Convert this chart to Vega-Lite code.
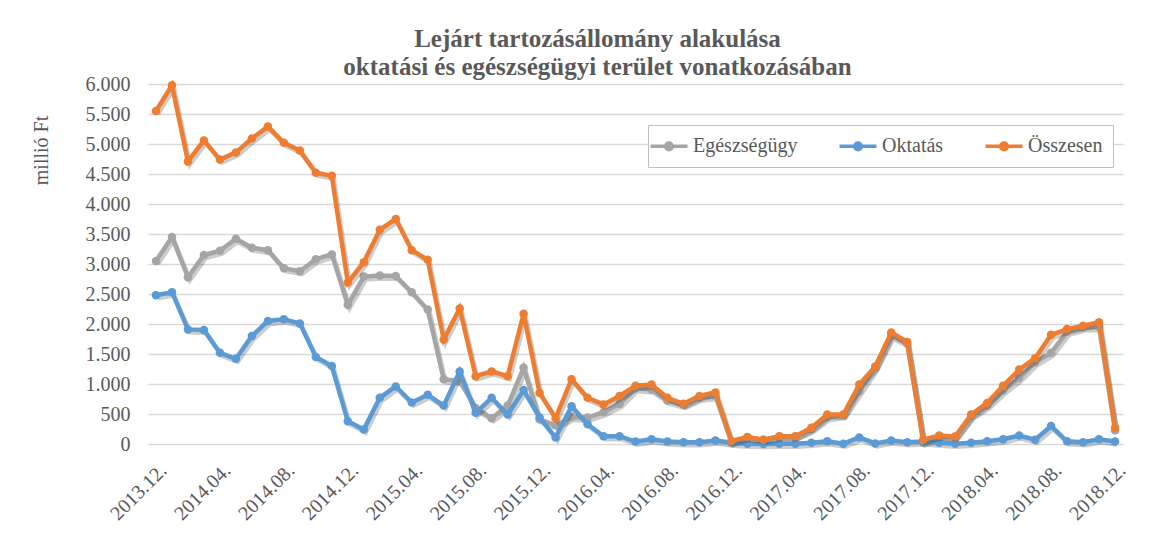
{
"$schema": "https://vega.github.io/schema/vega-lite/v6.json",
"width": 975, "height": 360,
"autosize": {"type": "none"},
"padding": {"left": 148, "top": 84, "right": 51, "bottom": 90},
"background": "white",
"config": {"view": {"stroke": null}, "font": "Liberation Serif"},
"title": {"text": ["Lejárt tartozásállomány alakulása", "oktatási és egészségügyi terület vonatkozásában"], "font": "Liberation Serif", "fontSize": 25, "fontWeight": "bold", "color": "#595959", "anchor": "middle", "dx": -38, "offset": -6, "lineHeight": 28},
"data": {"values": [
{"m":"2013.12.","s":"Egészségügy","v":3050},{"m":"2014.01.","s":"Egészségügy","v":3450},{"m":"2014.02.","s":"Egészségügy","v":2780},{"m":"2014.03.","s":"Egészségügy","v":3150},{"m":"2014.04.","s":"Egészségügy","v":3220},{"m":"2014.05.","s":"Egészségügy","v":3420},{"m":"2014.06.","s":"Egészségügy","v":3270},{"m":"2014.07.","s":"Egészségügy","v":3230},{"m":"2014.08.","s":"Egészségügy","v":2930},{"m":"2014.09.","s":"Egészségügy","v":2880},{"m":"2014.10.","s":"Egészségügy","v":3080},{"m":"2014.11.","s":"Egészségügy","v":3160},{"m":"2014.12.","s":"Egészségügy","v":2320},{"m":"2015.01.","s":"Egészségügy","v":2790},{"m":"2015.02.","s":"Egészségügy","v":2810},{"m":"2015.03.","s":"Egészségügy","v":2800},{"m":"2015.04.","s":"Egészségügy","v":2530},{"m":"2015.05.","s":"Egészségügy","v":2240},{"m":"2015.06.","s":"Egészségügy","v":1080},{"m":"2015.07.","s":"Egészségügy","v":1050},{"m":"2015.08.","s":"Egészségügy","v":600},{"m":"2015.09.","s":"Egészségügy","v":430},{"m":"2015.10.","s":"Egészségügy","v":640},{"m":"2015.11.","s":"Egészségügy","v":1270},{"m":"2015.12.","s":"Egészségügy","v":410},{"m":"2016.01.","s":"Egészségügy","v":310},{"m":"2016.02.","s":"Egészségügy","v":450},{"m":"2016.03.","s":"Egészségügy","v":440},{"m":"2016.04.","s":"Egészségügy","v":530},{"m":"2016.05.","s":"Egészségügy","v":670},{"m":"2016.06.","s":"Egészségügy","v":930},{"m":"2016.07.","s":"Egészségügy","v":910},{"m":"2016.08.","s":"Egészségügy","v":720},{"m":"2016.09.","s":"Egészségügy","v":650},{"m":"2016.10.","s":"Egészségügy","v":770},{"m":"2016.11.","s":"Egészségügy","v":800},{"m":"2016.12.","s":"Egészségügy","v":30},{"m":"2017.01.","s":"Egészségügy","v":110},{"m":"2017.02.","s":"Egészségügy","v":70},{"m":"2017.03.","s":"Egészségügy","v":125},{"m":"2017.04.","s":"Egészségügy","v":125},{"m":"2017.05.","s":"Egészségügy","v":250},{"m":"2017.06.","s":"Egészségügy","v":445},{"m":"2017.07.","s":"Egészségügy","v":485},{"m":"2017.08.","s":"Egészségügy","v":880},{"m":"2017.09.","s":"Egészségügy","v":1280},{"m":"2017.10.","s":"Egészségügy","v":1800},{"m":"2017.11.","s":"Egészségügy","v":1670},{"m":"2017.12.","s":"Egészségügy","v":30},{"m":"2018.01.","s":"Egészségügy","v":120},{"m":"2018.02.","s":"Egészségügy","v":120},{"m":"2018.03.","s":"Egészségügy","v":470},{"m":"2018.04.","s":"Egészségügy","v":640},{"m":"2018.05.","s":"Egészségügy","v":890},{"m":"2018.06.","s":"Egészségügy","v":1100},{"m":"2018.07.","s":"Egészségügy","v":1360},{"m":"2018.08.","s":"Egészségügy","v":1520},{"m":"2018.09.","s":"Egészségügy","v":1870},{"m":"2018.10.","s":"Egészségügy","v":1940},{"m":"2018.11.","s":"Egészségügy","v":1950},{"m":"2018.12.","s":"Egészségügy","v":230},
{"m":"2013.12.","s":"Oktatás","v":2480},{"m":"2014.01.","s":"Oktatás","v":2530},{"m":"2014.02.","s":"Oktatás","v":1910},{"m":"2014.03.","s":"Oktatás","v":1900},{"m":"2014.04.","s":"Oktatás","v":1520},{"m":"2014.05.","s":"Oktatás","v":1420},{"m":"2014.06.","s":"Oktatás","v":1800},{"m":"2014.07.","s":"Oktatás","v":2050},{"m":"2014.08.","s":"Oktatás","v":2080},{"m":"2014.09.","s":"Oktatás","v":2010},{"m":"2014.10.","s":"Oktatás","v":1450},{"m":"2014.11.","s":"Oktatás","v":1300},{"m":"2014.12.","s":"Oktatás","v":380},{"m":"2015.01.","s":"Oktatás","v":240},{"m":"2015.02.","s":"Oktatás","v":770},{"m":"2015.03.","s":"Oktatás","v":960},{"m":"2015.04.","s":"Oktatás","v":690},{"m":"2015.05.","s":"Oktatás","v":820},{"m":"2015.06.","s":"Oktatás","v":640},{"m":"2015.07.","s":"Oktatás","v":1210},{"m":"2015.08.","s":"Oktatás","v":520},{"m":"2015.09.","s":"Oktatás","v":770},{"m":"2015.10.","s":"Oktatás","v":490},{"m":"2015.11.","s":"Oktatás","v":900},{"m":"2015.12.","s":"Oktatás","v":440},{"m":"2016.01.","s":"Oktatás","v":110},{"m":"2016.02.","s":"Oktatás","v":630},{"m":"2016.03.","s":"Oktatás","v":330},{"m":"2016.04.","s":"Oktatás","v":130},{"m":"2016.05.","s":"Oktatás","v":130},{"m":"2016.06.","s":"Oktatás","v":40},{"m":"2016.07.","s":"Oktatás","v":80},{"m":"2016.08.","s":"Oktatás","v":40},{"m":"2016.09.","s":"Oktatás","v":30},{"m":"2016.10.","s":"Oktatás","v":30},{"m":"2016.11.","s":"Oktatás","v":60},{"m":"2016.12.","s":"Oktatás","v":20},{"m":"2017.01.","s":"Oktatás","v":5},{"m":"2017.02.","s":"Oktatás","v":0},{"m":"2017.03.","s":"Oktatás","v":5},{"m":"2017.04.","s":"Oktatás","v":5},{"m":"2017.05.","s":"Oktatás","v":20},{"m":"2017.06.","s":"Oktatás","v":45},{"m":"2017.07.","s":"Oktatás","v":5},{"m":"2017.08.","s":"Oktatás","v":110},{"m":"2017.09.","s":"Oktatás","v":10},{"m":"2017.10.","s":"Oktatás","v":60},{"m":"2017.11.","s":"Oktatás","v":30},{"m":"2017.12.","s":"Oktatás","v":40},{"m":"2018.01.","s":"Oktatás","v":20},{"m":"2018.02.","s":"Oktatás","v":5},{"m":"2018.03.","s":"Oktatás","v":20},{"m":"2018.04.","s":"Oktatás","v":45},{"m":"2018.05.","s":"Oktatás","v":80},{"m":"2018.06.","s":"Oktatás","v":140},{"m":"2018.07.","s":"Oktatás","v":70},{"m":"2018.08.","s":"Oktatás","v":300},{"m":"2018.09.","s":"Oktatás","v":45},{"m":"2018.10.","s":"Oktatás","v":30},{"m":"2018.11.","s":"Oktatás","v":80},{"m":"2018.12.","s":"Oktatás","v":40},
{"m":"2013.12.","s":"Összesen","v":5550},{"m":"2014.01.","s":"Összesen","v":5980},{"m":"2014.02.","s":"Összesen","v":4710},{"m":"2014.03.","s":"Összesen","v":5060},{"m":"2014.04.","s":"Összesen","v":4740},{"m":"2014.05.","s":"Összesen","v":4860},{"m":"2014.06.","s":"Összesen","v":5090},{"m":"2014.07.","s":"Összesen","v":5290},{"m":"2014.08.","s":"Összesen","v":5020},{"m":"2014.09.","s":"Összesen","v":4890},{"m":"2014.10.","s":"Összesen","v":4520},{"m":"2014.11.","s":"Összesen","v":4470},{"m":"2014.12.","s":"Összesen","v":2690},{"m":"2015.01.","s":"Összesen","v":3030},{"m":"2015.02.","s":"Összesen","v":3570},{"m":"2015.03.","s":"Összesen","v":3750},{"m":"2015.04.","s":"Összesen","v":3230},{"m":"2015.05.","s":"Összesen","v":3070},{"m":"2015.06.","s":"Összesen","v":1740},{"m":"2015.07.","s":"Összesen","v":2260},{"m":"2015.08.","s":"Összesen","v":1130},{"m":"2015.09.","s":"Összesen","v":1210},{"m":"2015.10.","s":"Összesen","v":1130},{"m":"2015.11.","s":"Összesen","v":2170},{"m":"2015.12.","s":"Összesen","v":850},{"m":"2016.01.","s":"Összesen","v":430},{"m":"2016.02.","s":"Összesen","v":1080},{"m":"2016.03.","s":"Összesen","v":770},{"m":"2016.04.","s":"Összesen","v":660},{"m":"2016.05.","s":"Összesen","v":800},{"m":"2016.06.","s":"Összesen","v":970},{"m":"2016.07.","s":"Összesen","v":990},{"m":"2016.08.","s":"Összesen","v":770},{"m":"2016.09.","s":"Összesen","v":670},{"m":"2016.10.","s":"Összesen","v":800},{"m":"2016.11.","s":"Összesen","v":860},{"m":"2016.12.","s":"Összesen","v":50},{"m":"2017.01.","s":"Összesen","v":115},{"m":"2017.02.","s":"Összesen","v":70},{"m":"2017.03.","s":"Összesen","v":130},{"m":"2017.04.","s":"Összesen","v":130},{"m":"2017.05.","s":"Összesen","v":270},{"m":"2017.06.","s":"Összesen","v":490},{"m":"2017.07.","s":"Összesen","v":490},{"m":"2017.08.","s":"Összesen","v":990},{"m":"2017.09.","s":"Összesen","v":1290},{"m":"2017.10.","s":"Összesen","v":1860},{"m":"2017.11.","s":"Összesen","v":1700},{"m":"2017.12.","s":"Összesen","v":70},{"m":"2018.01.","s":"Összesen","v":140},{"m":"2018.02.","s":"Összesen","v":125},{"m":"2018.03.","s":"Összesen","v":490},{"m":"2018.04.","s":"Összesen","v":685},{"m":"2018.05.","s":"Összesen","v":970},{"m":"2018.06.","s":"Összesen","v":1240},{"m":"2018.07.","s":"Összesen","v":1430},{"m":"2018.08.","s":"Összesen","v":1820},{"m":"2018.09.","s":"Összesen","v":1915},{"m":"2018.10.","s":"Összesen","v":1970},{"m":"2018.11.","s":"Összesen","v":2030},{"m":"2018.12.","s":"Összesen","v":270}
]},
"encoding": {
  "x": {"field": "m", "type": "ordinal",
    "scale": {"type": "point", "padding": 0.5, "domain": ["2013.12.","2014.01.","2014.02.","2014.03.","2014.04.","2014.05.","2014.06.","2014.07.","2014.08.","2014.09.","2014.10.","2014.11.","2014.12.","2015.01.","2015.02.","2015.03.","2015.04.","2015.05.","2015.06.","2015.07.","2015.08.","2015.09.","2015.10.","2015.11.","2015.12.","2016.01.","2016.02.","2016.03.","2016.04.","2016.05.","2016.06.","2016.07.","2016.08.","2016.09.","2016.10.","2016.11.","2016.12.","2017.01.","2017.02.","2017.03.","2017.04.","2017.05.","2017.06.","2017.07.","2017.08.","2017.09.","2017.10.","2017.11.","2017.12.","2018.01.","2018.02.","2018.03.","2018.04.","2018.05.","2018.06.","2018.07.","2018.08.","2018.09.","2018.10.","2018.11.","2018.12."]},
    "axis": {"values": ["2013.12.","2014.04.","2014.08.","2014.12.","2015.04.","2015.08.","2015.12.","2016.04.","2016.08.","2016.12.","2017.04.","2017.08.","2017.12.","2018.04.","2018.08.","2018.12."],
      "labelAngle": -45, "labelAlign": "right", "labelBaseline": "top", "labelPadding": 16,
      "labelFont": "Liberation Serif", "labelFontSize": 20, "labelColor": "#595959",
      "ticks": false, "domain": false, "grid": false, "title": null}},
  "y": {"field": "v", "type": "quantitative",
    "scale": {"domain": [0, 6000]},
    "axis": {"values": [0,500,1000,1500,2000,2500,3000,3500,4000,4500,5000,5500,6000],
      "labelExpr": "replace(format(datum.value, ','), ',', '.')",
      "grid": true, "gridColor": "#d9d9d9", "gridWidth": 1.3, "domain": false, "ticks": false,
      "labelPadding": 18, "labelFont": "Liberation Serif", "labelFontSize": 20, "labelColor": "#595959",
      "title": "millió Ft", "titleFont": "Liberation Serif", "titleFontSize": 20, "titleFontWeight": "normal",
      "titleColor": "#595959", "titleY": 66, "titlePadding": 34}}
},
"layer": [
  {"transform": [{"filter": "datum.s === 'Egészségügy'"}],
   "mark": {"type": "line", "color": "#000", "opacity": 0.2, "strokeWidth": 4.5, "xOffset": 2, "yOffset": 3}},
  {"transform": [{"filter": "datum.s === 'Egészségügy'"}],
   "mark": {"type": "line", "strokeWidth": 4.5, "point": {"filled": true, "size": 72}},
   "encoding": {"color": {"field": "s", "type": "nominal",
     "scale": {"domain": ["Egészségügy","Oktatás","Összesen"], "range": ["#A5A5A5","#5B9BD5","#ED7D31"]},
     "legend": {"orient": "none", "legendX": 500, "legendY": 41, "direction": "horizontal", "title": null,
       "labelFont": "Liberation Serif", "labelFontSize": 20, "labelColor": "#595959",
       "symbolType": "M-2,0H2M-0.36,0A0.36,0.36,0,1,1,0.36,0A0.36,0.36,0,1,1,-0.36,0Z",
       "symbolSize": 342, "symbolStrokeWidth": 3.5, "labelOffset": 13, "columnPadding": 34,
       "padding": 10, "fillColor": "white", "strokeColor": "#bfbfbf",
       "encode": {"symbols": {"update": {"fill": {"scale": "color", "field": "value"}, "stroke": {"scale": "color", "field": "value"}, "opacity": {"value": 1}}}}}}}},
  {"transform": [{"filter": "datum.s === 'Oktatás'"}],
   "mark": {"type": "line", "color": "#000", "opacity": 0.2, "strokeWidth": 4.5, "xOffset": 2, "yOffset": 3}},
  {"transform": [{"filter": "datum.s === 'Oktatás'"}],
   "mark": {"type": "line", "strokeWidth": 4.5, "point": {"filled": true, "size": 72}},
   "encoding": {"color": {"field": "s", "type": "nominal",
     "scale": {"domain": ["Egészségügy","Oktatás","Összesen"], "range": ["#A5A5A5","#5B9BD5","#ED7D31"]}}}},
  {"transform": [{"filter": "datum.s === 'Összesen'"}],
   "mark": {"type": "line", "color": "#000", "opacity": 0.2, "strokeWidth": 4.5, "xOffset": 2, "yOffset": 3}},
  {"transform": [{"filter": "datum.s === 'Összesen'"}],
   "mark": {"type": "line", "strokeWidth": 4.5, "point": {"filled": true, "size": 72}},
   "encoding": {"color": {"field": "s", "type": "nominal",
     "scale": {"domain": ["Egészségügy","Oktatás","Összesen"], "range": ["#A5A5A5","#5B9BD5","#ED7D31"]}}}}
]
}
